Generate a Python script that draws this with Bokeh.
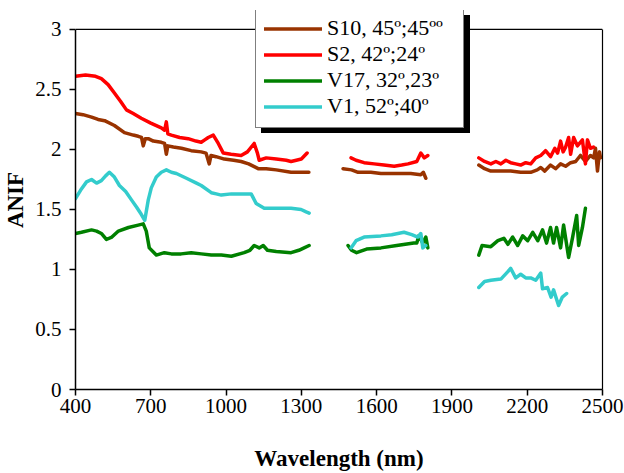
from bokeh.plotting import figure
from bokeh.models import Legend, LegendItem, FixedTicker, LinearAxis, Span
from bokeh.embed import file_html
from bokeh.resources import INLINE

nan = float("nan")

s10_wl = [400, 430, 464, 490, 516, 555, 595, 630, 650, 663, 670, 678, 690, 710, 742, 755, 762, 768, 790, 822, 861, 901,
          920, 933, 940, 960, 993, 1030, 1060, 1090, 1128, 1160, 1200, 1259, 1300, 1330,
          nan,
          1466, 1500, 1526, 1577, 1617, 1657, 1685, 1736, 1776, 1786, 1796,
          nan,
          2007, 2030, 2055, 2095, 2134, 2174, 2214, 2240, 2254, 2270, 2293, 2313, 2333, 2353, 2373, 2393, 2412,
          2432, 2452, 2465, 2472, 2480, 2488, 2492]
s10_val = [2.30, 2.29, 2.27, 2.25, 2.24, 2.20, 2.14, 2.12, 2.11, 2.10, 2.03, 2.09, 2.09, 2.07, 2.06, 2.05, 1.96, 2.03, 2.02, 2.01, 1.99, 1.98,
           1.97, 1.88, 1.95, 1.94, 1.92, 1.91, 1.90, 1.88, 1.84, 1.84, 1.83, 1.81, 1.81, 1.81,
           nan,
           1.84, 1.83, 1.81, 1.81, 1.80, 1.80, 1.80, 1.80, 1.79, 1.81, 1.76,
           nan,
           1.87, 1.84, 1.82, 1.82, 1.82, 1.81, 1.81, 1.83, 1.85, 1.82, 1.87, 1.84, 1.88, 1.86, 1.89, 1.90, 1.95,
           1.90, 1.95, 1.93, 2.01, 1.82, 1.98, 1.93]

s2_wl = [400, 440, 480, 503, 530, 555, 580, 603, 630, 662, 700, 742, 755, 762, 768, 782, 815, 849, 880, 901,
         915, 929, 949, 969, 989, 1020, 1060, 1085, 1112, 1125, 1132, 1160, 1200, 1240, 1259, 1280, 1300, 1323,
         nan,
         1498, 1518, 1550, 1590, 1629, 1670, 1700, 1725, 1760, 1776, 1790, 1804,
         nan,
         2007, 2030, 2055, 2075, 2095, 2115, 2134, 2154, 2174, 2194, 2214, 2234, 2254, 2273, 2293, 2310, 2321,
         2333, 2343, 2353, 2365, 2373, 2385, 2400, 2420, 2432, 2440, 2452, 2464]
s2_val = [2.61, 2.62, 2.61, 2.59, 2.54, 2.47, 2.40, 2.33, 2.30, 2.26, 2.22, 2.18, 2.16, 2.23, 2.13, 2.12, 2.10, 2.09, 2.07, 2.06,
          2.08, 2.10, 2.12, 2.05, 1.97, 1.96, 1.95, 1.98, 2.05, 1.97, 1.91, 1.93, 1.92, 1.91, 1.90, 1.91, 1.92, 1.97,
          nan,
          1.93, 1.91, 1.89, 1.88, 1.87, 1.86, 1.87, 1.88, 1.90, 1.97, 1.93, 1.95,
          nan,
          1.93, 1.90, 1.88, 1.90, 1.88, 1.91, 1.89, 1.88, 1.87, 1.89, 1.88, 1.93, 1.95, 1.99, 1.94, 2.01, 1.97,
          2.07, 1.98, 2.02, 2.10, 1.96, 2.10, 2.03, 2.08, 1.88, 2.08, 2.01, 2.02]

v17_wl = [400, 424, 464, 484, 503, 523, 545, 571, 611, 650, 670, 682, 694, 722, 754, 782, 821, 861, 901, 941,
          981, 1021, 1072, 1095, 1112, 1132, 1148, 1165, 1200, 1259, 1290, 1311, 1331,
          nan,
          1486, 1500, 1520, 1560, 1617, 1680, 1748, 1760, 1768, 1784, 1796, 1804,
          nan,
          2007, 2020, 2055, 2083, 2107, 2123, 2142, 2162, 2182, 2202, 2222, 2242, 2261, 2277, 2293, 2305, 2317,
          2333, 2345, 2365, 2381, 2397, 2405, 2420, 2432]
v17_val = [1.30, 1.31, 1.33, 1.32, 1.30, 1.25, 1.27, 1.32, 1.35, 1.37, 1.38, 1.32, 1.18, 1.12, 1.14, 1.13, 1.13, 1.14, 1.13, 1.12,
           1.12, 1.11, 1.14, 1.16, 1.20, 1.18, 1.20, 1.16, 1.15, 1.14, 1.16, 1.18, 1.20,
           nan,
           1.20, 1.16, 1.14, 1.17, 1.18, 1.20, 1.22, 1.22, 1.28, 1.22, 1.27, 1.18,
           nan,
           1.12, 1.20, 1.19, 1.24, 1.26, 1.21, 1.27, 1.20, 1.28, 1.24, 1.31, 1.24, 1.33, 1.22, 1.35, 1.22, 1.35,
           1.18, 1.37, 1.10, 1.27, 1.45, 1.20, 1.35, 1.51]

v1_wl = [400, 420, 444, 464, 484, 503, 520, 535, 555, 575, 600, 623, 643, 662, 676, 690, 702, 722, 742, 762, 782,
         802, 842, 882, 901, 941, 961, 981, 1021, 1060, 1100, 1120, 1152, 1180, 1259, 1299, 1319, 1331,
         nan,
         1498, 1518, 1550, 1617, 1660, 1709, 1740, 1764, 1776, 1784, 1796,
         nan,
         2007, 2030, 2055, 2095, 2122, 2134, 2154, 2174, 2194, 2214, 2234, 2254, 2261, 2281, 2295, 2305,
         2325, 2340, 2357]
v1_val = [1.59, 1.66, 1.73, 1.75, 1.72, 1.74, 1.78, 1.81, 1.77, 1.70, 1.65, 1.58, 1.52, 1.46, 1.41, 1.58, 1.68, 1.77, 1.81, 1.83, 1.81,
          1.80, 1.76, 1.72, 1.70, 1.64, 1.63, 1.62, 1.63, 1.63, 1.63, 1.55, 1.51, 1.51, 1.51, 1.50, 1.48, 1.47,
          nan,
          1.18, 1.24, 1.27, 1.28, 1.29, 1.31, 1.29, 1.27, 1.30, 1.18, 1.20,
          nan,
          0.85, 0.90, 0.91, 0.92, 0.98, 1.01, 0.93, 0.96, 0.93, 0.93, 0.91, 0.97, 0.84, 0.85, 0.77, 0.83,
          0.70, 0.77, 0.80]

series_labels = ["S10, 45º;45ºº", "S2, 42º;24º", "V17, 32º,23º", "V1, 52º;40º"]
series_colors = ["#993300", "#FF0000", "#008000", "#33CCCC"]

x_ticks = [400, 700, 1000, 1300, 1600, 1900, 2200, 2500]
y_ticks = [0, 0.5, 1, 1.5, 2, 2.5, 3]
y_tick_labels = ["0", "0.5", "1", "1.5", "2", "2.5", "3"]
y_max = 3

# ---- figure ----
# the frame reaches a little above y=3 so that the legend (which sits across the
# top border in the reference) is not clipped; the axes are bounded to 0..3
p = figure(width=624, height=473, x_range=(400, 2500), y_range=(0, 3.158),
           output_backend="svg", toolbar_location=None,
           min_border_left=74, min_border_right=22, min_border_top=10, min_border_bottom=84)
p.xgrid.visible = False
p.ygrid.visible = False
p.outline_line_color = None
p.background_fill_color = "white"
p.border_fill_color = "white"

font = "Liberation Serif"
for ax in (p.xaxis[0], p.yaxis[0]):
    ax.axis_line_color = "black"
    ax.axis_line_width = 1.5
    ax.major_tick_line_color = "black"
    ax.major_tick_line_width = 1.5
    ax.major_tick_in = 0
    ax.major_tick_out = 6
    ax.minor_tick_line_color = None
    ax.major_label_text_font = font
    ax.major_label_text_font_size = "21px"
    ax.major_label_text_color = "black"
    ax.axis_label_text_font = font
    ax.axis_label_text_font_style = "bold"
    ax.axis_label_text_font_size = "23px"
    ax.axis_label_text_color = "black"

p.xaxis[0].ticker = FixedTicker(ticks=x_ticks)
p.xaxis[0].axis_label = "Wavelength (nm)"
p.xaxis[0].major_label_standoff = 3
p.xaxis[0].axis_label_standoff = 30

p.yaxis[0].ticker = FixedTicker(ticks=y_ticks)
p.yaxis[0].bounds = (0, y_max)
p.yaxis[0].major_label_overrides = {t: s for t, s in zip(y_ticks, y_tick_labels)}
p.yaxis[0].axis_label = "ANIF"
p.yaxis[0].major_label_standoff = 8
p.yaxis[0].axis_label_standoff = 4

# right and top borders of the plot area
right_ax = LinearAxis(bounds=(0, y_max), ticker=FixedTicker(ticks=[]), major_tick_out=0,
                      minor_tick_line_color=None, axis_line_color="black", axis_line_width=1.2)
p.add_layout(right_ax, "right")
p.add_layout(Span(location=y_max, dimension="width", line_color="black", line_width=1.2))

data = [(s10_wl, s10_val), (s2_wl, s2_val), (v17_wl, v17_val), (v1_wl, v1_val)]
renderers = []
for (wl, val), col in zip(data, series_colors):
    r = p.line(wl, val, line_color=col, line_width=3.5, line_join="round", line_cap="round")
    renderers.append(r)

LEG_PAD, LEG_GLYPH_W, LEG_ROW_H, LEG_LABEL_W = 8, 58, 25, 128

# drop shadow of the legend: a single blank black item of the same overall size
dummy = p.line([], [], line_color="black", line_width=1)
shadow = Legend(items=[LegendItem(label=" ", renderers=[dummy])], location=(186, 256), margin=0,
                padding=LEG_PAD, spacing=0, glyph_width=LEG_GLYPH_W,
                glyph_height=LEG_ROW_H * len(series_labels), label_height=LEG_ROW_H * len(series_labels),
                label_width=LEG_LABEL_W, label_standoff=5, label_text_alpha=0,
                border_line_color="black", background_fill_color="black", background_fill_alpha=1)

legend = Legend(items=[LegendItem(label=l, renderers=[r]) for l, r in zip(series_labels, renderers)],
                location=(180, 261), orientation="vertical", margin=0,
                padding=LEG_PAD, spacing=0, glyph_width=LEG_GLYPH_W, glyph_height=LEG_ROW_H,
                label_height=LEG_ROW_H, label_width=LEG_LABEL_W,
                label_standoff=5, label_text_font=font, label_text_font_size="22px",
                label_text_color="black", border_line_color="black", border_line_width=1,
                background_fill_color="white", background_fill_alpha=1)
p.add_layout(shadow, "center")
p.add_layout(legend, "center")

open("out.html", "w").write(file_html(p, INLINE))
